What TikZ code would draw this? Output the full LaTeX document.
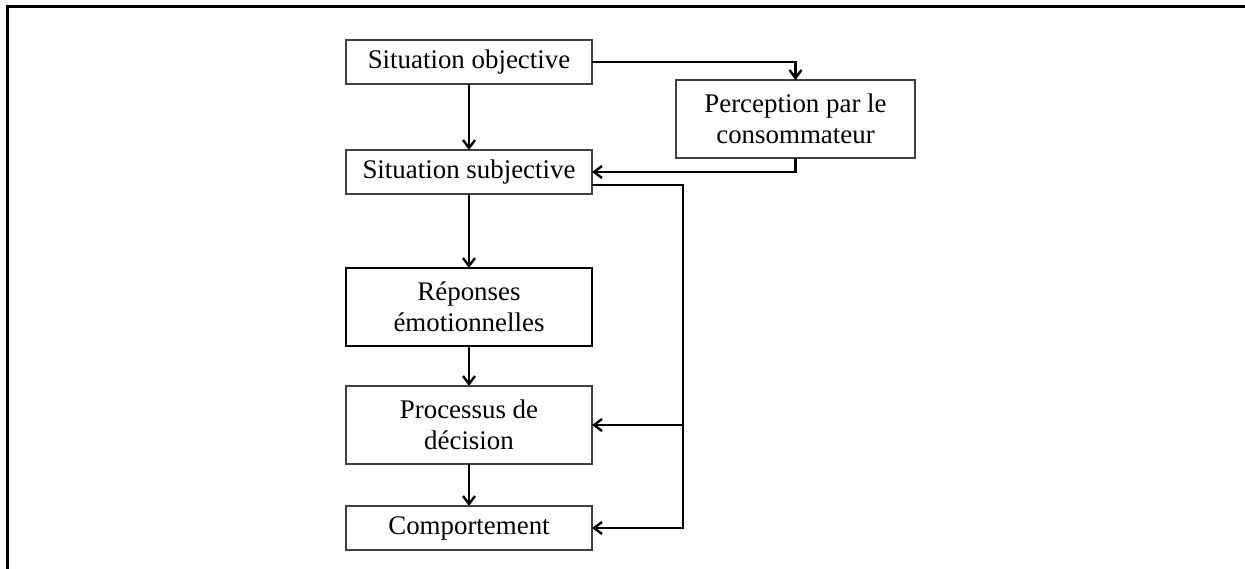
\documentclass[tikz,border=0pt]{standalone}
\usepackage{fontspec}
\setmainfont{Liberation Serif}
\usetikzlibrary{arrows.meta}

\begin{document}
\begin{tikzpicture}[x=1bp,y=-1bp,
    box/.style={shape=rectangle,draw=black!75,line width=1.2bp,align=center,
        minimum width=246bp,inner sep=0pt,outer sep=0pt,
        font=\fontsize{27}{31}\selectfont},
    arr/.style={line width=2.4bp,-{Straight Barb[length=8bp,width=12bp]}}]
    \useasboundingbox (0,0) rectangle (1245,569);
    \draw[line width=3.5bp] (7.5,569) -- (7.5,6.5) -- (1245,6.5);

    \node[box,minimum height=44bp] (obj) at (469,62) {Situation objective};
    \node[box,minimum height=44bp] (subj) at (469,172) {Situation subjective};
    \node[box,minimum height=78bp,draw=black,line width=2.4bp] (rep) at (469,307) {Réponses\\émotionnelles};
    \node[box,minimum height=78bp] (proc) at (469,425) {Processus de\\décision};
    \node[box,minimum height=44bp] (comp) at (469,528) {Comportement};
    \node[box,minimum height=78bp,minimum width=239bp] (perc) at (795.5,119) {Perception par le\\consommateur};

    \draw[arr] (obj) -- (subj);
    \draw[arr] (subj) -- (rep);
    \draw[arr] (rep) -- (proc);
    \draw[arr] (proc) -- (comp);
    \draw[arr] (obj.east) -| (perc.north);
    \draw[arr] (perc.south) |- (subj.east);
    % retour vers la decision et le comportement
    \draw[arr] ([yshift=-13bp]subj.east) -- ++(91,0) coordinate (bus) |- (comp.east);
    \draw[arr] (bus |- proc.east) -- (proc.east);
\end{tikzpicture}
\end{document}
